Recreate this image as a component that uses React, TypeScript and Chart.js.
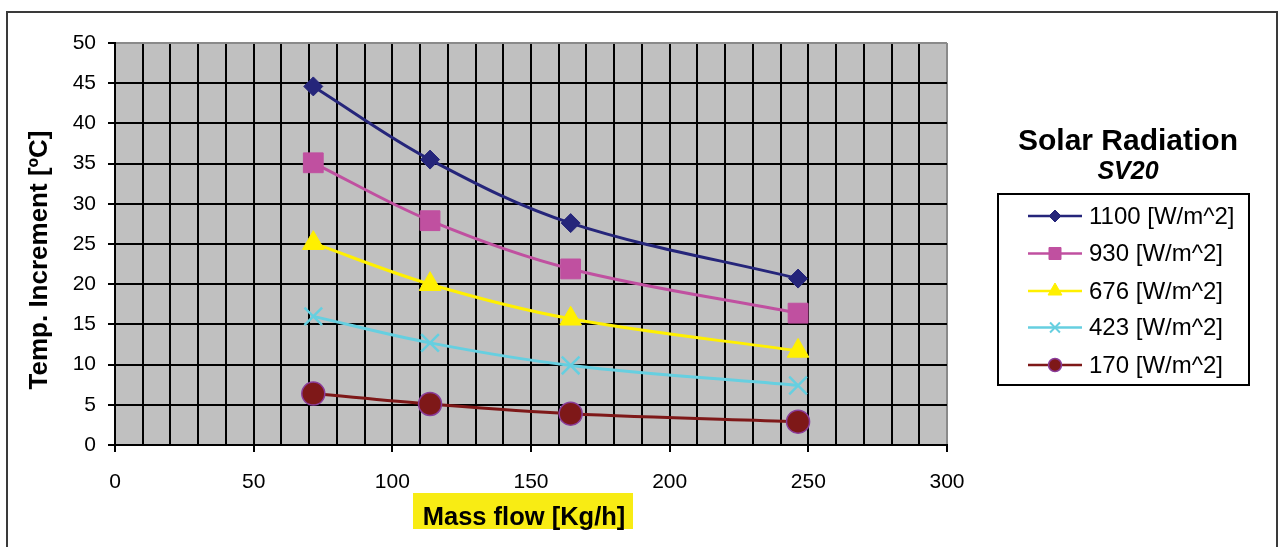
import React, { useEffect, useRef } from 'react';
import { Chart, registerables } from 'chart.js';

Chart.register(...registerables);

// ---- data ----
const massFlow = [71.5, 113.6, 164.3, 246.3];
const seriesLabels = ['1100 [W/m^2]', '930 [W/m^2]', '676 [W/m^2]', '423 [W/m^2]', '170 [W/m^2]'];
const rad1100 = [44.6, 35.5, 27.6, 20.7];
const rad930 = [35.1, 27.9, 21.9, 16.4];
const rad676 = [25.1, 20.0, 15.7, 11.7];
const rad423 = [16.0, 12.7, 9.9, 7.4];
const rad170 = [6.4, 5.1, 3.9, 2.9];
const xLabelStep = 50;
const xGridStep = 10;
const yStep = 5;
const xMin = 0, xMax = 300, yMin = 0, yMax = 50;
const yTitle = 'Temp. Increment [ºC]';
const xTitle = 'Mass flow [Kg/h]';
const legendTitle = 'Solar Radiation';
const legendSubtitle = 'SV20';

const FONT = '"Liberation Sans", Arial, sans-serif';

const styles = [
  { color: '#25257a', point: 'rectRot', r: 9.5, border: '#25257a', bw: 1, lr: 6 },
  { color: '#c050a0', point: 'rect', r: 14, border: '#c050a0', bw: 1, lr: 8.5 },
  { color: '#fff000', point: 'triangle', r: 12.5, border: '#fff000', bw: 1, lr: 8 },
  { color: '#66cfe0', point: 'crossRot', r: 12.5, border: '#66cfe0', bw: 2.5, lr: 7 },
  { color: '#7e1818', point: 'circle', r: 11.5, border: '#8a3c9a', bw: 1.5, lr: 6.5 },
];
const seriesValues = [rad1100, rad930, rad676, rad423, rad170];

function drawMarker(ctx: CanvasRenderingContext2D, style: string, x: number, y: number, r: number, fill: string, stroke: string, bw: number) {
  ctx.save();
  ctx.fillStyle = fill;
  ctx.strokeStyle = stroke;
  ctx.lineWidth = bw;
  ctx.beginPath();
  if (style === 'rectRot') {
    ctx.moveTo(x, y - r); ctx.lineTo(x + r, y); ctx.lineTo(x, y + r); ctx.lineTo(x - r, y); ctx.closePath();
    ctx.fill(); ctx.stroke();
  } else if (style === 'rect') {
    const h = r * Math.SQRT1_2;
    ctx.rect(x - h, y - h, 2 * h, 2 * h); ctx.fill(); ctx.stroke();
  } else if (style === 'triangle') {
    ctx.moveTo(x, y - r);
    ctx.lineTo(x + r * Math.sin(2 * Math.PI / 3), y - r * Math.cos(2 * Math.PI / 3));
    ctx.lineTo(x - r * Math.sin(2 * Math.PI / 3), y - r * Math.cos(2 * Math.PI / 3));
    ctx.closePath(); ctx.fill(); ctx.stroke();
  } else if (style === 'crossRot') {
    const h = r * Math.SQRT1_2;
    ctx.moveTo(x - h, y - h); ctx.lineTo(x + h, y + h);
    ctx.moveTo(x - h, y + h); ctx.lineTo(x + h, y - h);
    ctx.stroke();
  } else {
    ctx.arc(x, y, r, 0, Math.PI * 2); ctx.fill(); ctx.stroke();
  }
  ctx.restore();
}

const decorPlugin = {
  id: 'decor',
  beforeDraw(chart: any) {
    const { ctx, chartArea: a } = chart;
    ctx.save();
    ctx.fillStyle = '#ffffff';
    ctx.fillRect(0, 0, chart.width, chart.height);
    ctx.fillStyle = '#c0c0c0';
    ctx.fillRect(a.left, a.top, a.right - a.left, a.bottom - a.top);
    ctx.restore();
  },
  afterDraw(chart: any) {
    const { ctx } = chart;
    ctx.save();
    // outer frame
    ctx.strokeStyle = '#3a3a3a';
    ctx.lineWidth = 2;
    ctx.beginPath();
    ctx.moveTo(7, chart.height + 2);
    ctx.lineTo(7, 12);
    ctx.lineTo(1277, 12);
    ctx.lineTo(1277, chart.height + 2);
    ctx.stroke();

    // y title
    ctx.fillStyle = '#000';
    ctx.font = `bold 26px ${FONT}`;
    ctx.textAlign = 'center';
    ctx.textBaseline = 'middle';
    ctx.save();
    ctx.translate(40, 260);
    ctx.rotate(-Math.PI / 2);
    ctx.fillText(yTitle, 0, 0);
    ctx.restore();

    // x title with yellow box
    ctx.fillStyle = '#f8ec14';
    ctx.fillRect(413, 493, 220, 36);
    ctx.fillStyle = '#000';
    ctx.textBaseline = 'alphabetic';
    ctx.font = `bold 25.5px ${FONT}`;
    ctx.fillText(xTitle, 524, 525);

    // legend titles
    ctx.font = `bold 30px ${FONT}`;
    ctx.fillText(legendTitle, 1128, 150);
    ctx.font = `italic bold 25px ${FONT}`;
    ctx.fillText(legendSubtitle, 1128, 179);

    // legend box
    ctx.strokeStyle = '#000';
    ctx.lineWidth = 2;
    ctx.strokeRect(998, 194, 251, 191);
    const rowY = [216, 253.5, 291, 327.5, 365];
    ctx.font = `24px ${FONT}`;
    ctx.textAlign = 'left';
    ctx.textBaseline = 'middle';
    seriesLabels.forEach((lab, i) => {
      const s = styles[i];
      const y = rowY[i];
      ctx.strokeStyle = s.color;
      ctx.lineWidth = 2.5;
      ctx.beginPath();
      ctx.moveTo(1028, y);
      ctx.lineTo(1082, y);
      ctx.stroke();
      drawMarker(ctx, s.point, 1055, y, s.lr, s.color, s.border, s.point === 'crossRot' ? 2 : s.bw);
      ctx.fillStyle = '#000';
      ctx.fillText(lab, 1089, y + 1);
    });
    ctx.restore();
  },
};

export default function App() {
  const ref = useRef<HTMLCanvasElement | null>(null);
  useEffect(() => {
    if (!ref.current) return;
    Chart.defaults.font.family = FONT;
    const datasets = seriesValues.map((vals, i) => {
      const s = styles[i];
      return {
        label: seriesLabels[i],
        data: massFlow.map((x, j) => ({ x, y: vals[j] })),
        borderColor: s.color,
        backgroundColor: s.color,
        borderWidth: 3,
        tension: 0.35,
        pointStyle: s.point,
        pointRadius: s.r,
        pointHoverRadius: s.r,
        pointBackgroundColor: s.color,
        pointBorderColor: s.border,
        pointBorderWidth: s.bw,
      };
    });
    const chart = new Chart(ref.current, {
      type: 'line',
      data: { datasets },
      plugins: [decorPlugin],
      options: {
        animation: false,
        responsive: false,
        maintainAspectRatio: false,
        layout: { padding: { top: 43, right: 332, left: 0, bottom: 0 } },
        plugins: { legend: { display: false }, tooltip: { enabled: false } },
        scales: {
          x: {
            type: 'linear',
            min: xMin,
            max: xMax,
            afterFit: (s: any) => { s.height = 102; },
            ticks: {
              stepSize: xGridStep,
              autoSkip: false,
              maxRotation: 0,
              padding: 18,
              color: '#000',
              font: { size: 21 },
              callback: (v: any) => (Number(v) % xLabelStep === 0 ? String(v) : ''),
            },
            grid: {
              color: (c: any) => (c.tick && c.tick.value === xMax ? '#8a8a8a' : '#000'),
              lineWidth: 2,
              tickLength: 7,
              tickColor: (c: any) => (c.tick && c.tick.value % xLabelStep === 0 ? '#000' : 'rgba(0,0,0,0)'),
            },
            border: { display: true, color: '#000', width: 2 },
          },
          y: {
            type: 'linear',
            min: yMin,
            max: yMax,
            afterFit: (s: any) => { s.width = 115; },
            ticks: {
              stepSize: yStep,
              padding: 12,
              color: '#000',
              font: { size: 21 },
            },
            grid: {
              color: (c: any) => (c.tick && c.tick.value === yMax ? '#8a8a8a' : '#000'),
              lineWidth: 2,
              tickLength: 7,
              tickColor: '#000',
            },
            border: { display: true, color: '#000', width: 2 },
          },
        },
      } as any,
    });
    return () => chart.destroy();
  }, []);
  return (
    <div style={{ position: 'absolute', left: 0, top: 0, width: 1279, height: 547, background: '#fff' }}>
      <canvas ref={ref} width={1279} height={547} style={{ display: 'block' }} />
    </div>
  );
}
